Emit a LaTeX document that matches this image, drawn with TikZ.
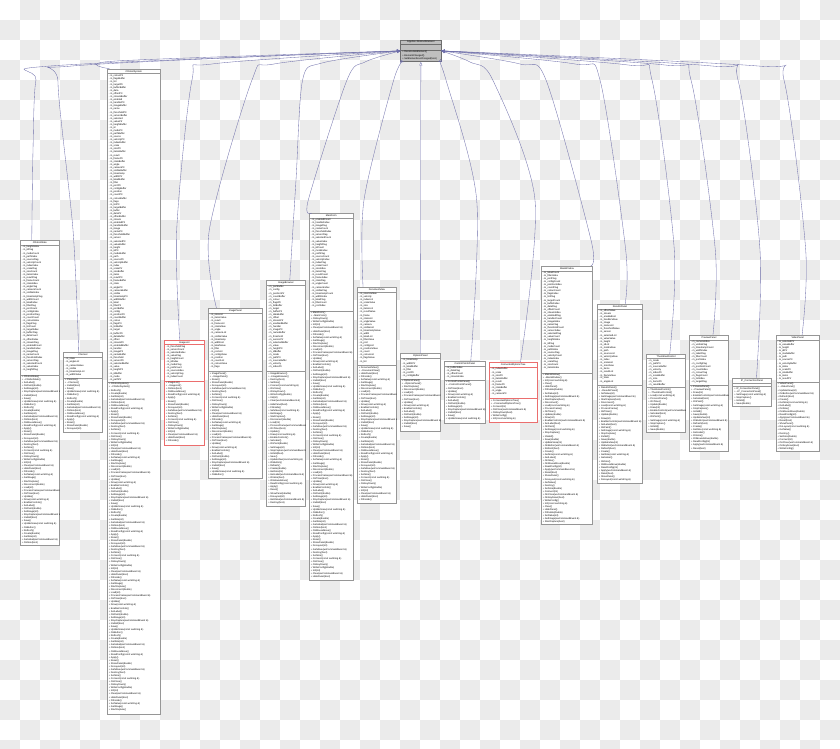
\documentclass[tikz,border=0pt]{standalone}
\usepackage{fontspec}
\newfontfamily\umlfont{Liberation Sans}
\usepackage{tikz}
\usetikzlibrary{arrows.meta,fit,calc}

\definecolor{tilegray}{RGB}{235,235,235}
\definecolor{boxgray}{RGB}{150,150,150}
\definecolor{boxred}{RGB}{235,110,110}
\definecolor{rootgray}{RGB}{191,191,191}
\definecolor{rootedge}{RGB}{110,110,110}
\definecolor{edgeblue}{RGB}{110,110,170}

\tikzset{
  umlbox/.style={draw=boxgray, fill=white, inner sep=0pt, line width=0.35pt},
  redbox/.style={umlbox, draw=boxred},
  rootbox/.style={umlbox, draw=rootedge, fill=rootgray},
  member/.style={anchor=west, inner sep=0pt, font=\umlfont\fontsize{1.8}{2}\selectfont},
  classname/.style={member, anchor=center},
  inherit/.style={draw=edgeblue, line width=0.25pt, -{Triangle[open, length=2.6pt, width=2.2pt]}},
}

% word pools for the member lists
\newcommand{\attrword}[1]{\ifcase#1 timestamp\or value\or position\or velocity\or buffer\or frame\or image\or width\or height\or count\or index\or data\or state\or name\or label\or id\or colour\or scale\or offset\or angle\or threshold\or filter\or mode\or flags\or size\or stream\or camera\or sensor\or port\or path\or list\or items\or enabled\or visible\or selected\or config\or source\or target\or result\or handler\fi}
\newcommand{\attrtail}[1]{\ifcase#1 \or Count\or List\or Ptr\or Index\or Value\or Buffer\or Flag\or \fi}
\newcommand{\methword}[1]{\ifcase#1 Init\or Update\or Refresh\or GetValue\or SetValue\or OnPaint\or OnSize\or OnClose\or Load\or Save\or Reset\or Clear\or Draw\or Create\or Destroy\or GetImage\or SetImage\or OnMouseMove\or OnKeyDown\or ProcessFrame\or UpdateView\or ShowPanel\or HidePanel\or EnableControls\or GetSize\or SetSize\or StartCapture\or StopCapture\or ReadConfig\or WriteConfig\or OnTimer\or OnButton\or DoLayout\or FitInside\or SetLabel\or GetLabel\or Connect\or Disconnect\or IsValid\or Apply\fi}
\newcommand{\argword}[1]{\ifcase#1 \or \or int\or \or bool\or double\or const wxString \&\or wxCommandEvent \&\fi}

% #1 name, #2 left, #3 right, #4 top, #5 divider, #6 bottom, #7 title, #8 seed, #9 style
\newcommand{\classbox}[9]{%
  \node[#9, fit={(#2,#4) (#3,#6)}] (#1) {};
  \draw[#9] (#2,#4+4.6) -- (#3,#4+4.6);
  \draw[#9] (#2,#5) -- (#3,#5);
  \node[classname] at ({(#2+#3)/2},#4+2.4) {#7};
  \begin{scope}
    \clip (#2,#4) rectangle (#3,#6);
    \pgfmathtruncatemacro\nattr{(#5-#4-4.6-1)/3.07}
    \pgfmathtruncatemacro\nmeth{(#6-#5-1)/3.07}
    \ifnum\nattr>0
    \foreach \k in {1,...,\nattr}{%
      \pgfmathtruncatemacro\wi{mod(\k*7+#8,40)}%
      \pgfmathtruncatemacro\ti{mod(\k*3+#8,9)}%
      \node[member] at (#2+1.3,{#4+4.6+2+(\k-1)*3.07}) {- m\_\attrword{\wi}\attrtail{\ti}};
    }\fi
    \foreach \k in {1,...,\nmeth}{%
      \pgfmathtruncatemacro\wi{mod(\k*11+#8,40)}%
      \pgfmathtruncatemacro\ti{mod(\k*5+#8,8)}%
      \node[member] at (#2+1.3,{#5+2+(\k-1)*3.07}) {\ifcase\k\or + #7()\or + \textasciitilde#7()\else + \methword{\wi}(\argword{\ti})\fi};
    }
  \end{scope}
}

\begin{document}
\begin{tikzpicture}[x=0.75pt,y=0.75pt,yscale=-1,xscale=1]
\useasboundingbox (0,0) rectangle (840,749);

%Background checkerboard
\fill[white] (0,0) rectangle (840,749);
\foreach \i in {0,...,41}
  \foreach \j in {0,...,37}{
    \pgfmathtruncatemacro\odd{mod(\i+\j,2)}
    \ifnum\odd=1 \fill[tilegray] (\i*20,\j*20) rectangle ++(20,20); \fi
  }

%Base class
\node[rootbox, fit={(400.7,40) (441,61.7)}] (root) {};
\draw[rootbox] (400.7,44.6) -- (441,44.6);
\draw[rootbox] (400.7,50) -- (441,50);
\node[classname] at (420.85,42.3) {Algebra::AbstractElement};
\node[member] at (402,52.3) {+ RecalculateElement()};
\node[member] at (402,55.4) {+ ElementChanged()};
\node[member] at (402,58.5) {+ SetElementHasChanged(bool)};

%Derived classes
\classbox{A}{20.3}{59.3}{240.7}{375}{545}{CRobotState}{1}{umlbox}
\classbox{B}{63.3}{102.7}{352.7}{378}{432.7}{CSensor}{5}{umlbox}
\classbox{C}{107.3}{160.3}{69}{382.3}{714.3}{CRobotSystem}{9}{umlbox}
\classbox{D}{164.3}{204.3}{340}{381}{445}{ImageList}{13}{redbox}
\classbox{E}{208.3}{262.3}{308.3}{371.7}{478}{ImagePanel}{17}{umlbox}
\classbox{G}{266.7}{305.3}{280.7}{371.7}{506}{ImageBrowser}{21}{umlbox}
\classbox{F}{309.3}{353.3}{213.3}{311}{580}{MainForm}{25}{umlbox}
\classbox{H}{357.3}{396.5}{287.3}{365.7}{503.2}{DocumentView}{29}{umlbox}
\classbox{I}{400.3}{440.5}{353.7}{379}{431.5}{OptionsPanel}{33}{umlbox}
\classbox{J}{444.3}{485.3}{361.3}{380.3}{423}{ControlPointsPanel}{37}{umlbox}
\classbox{K}{489.3}{537}{362.7}{398.7}{422.3}{ConnectedOptionsTree}{3}{redbox}
\classbox{L}{541.2}{592.6}{266.2}{373}{524.6}{MainWindow}{7}{umlbox}
\classbox{M}{597.4}{642.4}{304.3}{385.7}{483}{ResultsPanel}{11}{umlbox}
\classbox{N}{646.7}{685.5}{354}{387.7}{431.8}{ThumbnailControl}{15}{umlbox}
\classbox{O}{689.6}{728.4}{335.3}{385}{451}{PreviewPanel}{19}{umlbox}
\classbox{P}{732.7}{771.3}{378.3}{386.5}{406}{IP\_ConnectionPanel}{23}{umlbox}
\classbox{Q}{776}{819.3}{335.3}{382.3}{451}{VideoPanel}{27}{umlbox}

%Connector ends
\coordinate (A-in) at ($(A.north west)+(11.7,0)$);
\coordinate (B-in) at ($(B.north west)+(15.7,0)$);
\coordinate (C-in) at ($(C.north west)+(2.5,0)$);
\coordinate (D-in) at ($(D.north west)+(15.7,0)$);
\coordinate (E-in) at ($(E.north west)+(8.4,0)$);
\coordinate (G-in) at ($(G.north west)+(23.3,0)$);
\coordinate (F-in) at ($(F.north west)+(2.7,0)$);
\coordinate (H-in) at ($(H.north west)+(6,0)$);
\coordinate (I-in) at ($(I.north west)+(20.5,0)$);
\coordinate (J-in) at ($(J.north west)+(26.7,0)$);
\coordinate (K-in) at ($(K.north west)+(31.4,0)$);
\coordinate (L-in) at ($(L.north west)+(49.8,0)$);
\coordinate (M-in) at ($(M.north west)+(28,0)$);
\coordinate (N-in) at ($(N.north west)+(23.3,0)$);
\coordinate (O-in) at ($(O.north west)+(23.6,0)$);
\coordinate (P-in) at ($(P.north west)+(24,0)$);
\coordinate (Q-in) at ($(Q.north west)+(26.3,0)$);
\coordinate (root-s1) at ($(root.south west)+(3.3,0)$);
\coordinate (root-s3) at ($(root.south east)+(-3,0)$);

%Inheritance lines
\draw[inherit] plot[smooth] coordinates {(A-in) (33,150) (36,80) (50,66) (root.west)};
\draw[inherit] plot[smooth] coordinates {(B-in) (73,230) (58,82) (72,66) (root.west)};
\draw[inherit] plot[smooth] coordinates {(C-in) (116,61) (root.west)};
\draw[inherit] plot[smooth] coordinates {(D-in) (176.7,230) (192,80) (212,64) (root.west)};
\draw[inherit] plot[smooth] coordinates {(E-in) (209.3,230) (252,80) (274,64) (root.west)};
\draw[inherit] plot[smooth] coordinates {(G-in) (296,180) (302.6,80) (322,63) (root.west)};
\draw[inherit] plot[smooth] coordinates {(F-in) (308.3,200) (347,80) (365,62) (root.west)};
\draw[inherit] plot[smooth] coordinates {(H-in) (364,200) (393.7,80) (root-s1)};
\draw[inherit] (I-in) -- (root.south);
\draw[inherit] plot[smooth] coordinates {(J-in) (476.7,200) (446,80) (root-s3)};
\draw[inherit] plot[smooth] coordinates {(K-in) (535,200) (492.8,80) (470,62) (root.east)};
\draw[inherit] plot[smooth] coordinates {(L-in) (591,240) (546,80) (520,64) (root.east)};
\draw[inherit] plot[smooth] coordinates {(M-in) (625.7,250) (600,80) (575,64) (root.east)};
\draw[inherit] plot[smooth] coordinates {(N-in) (674.3,250) (652,80) (628,65) (root.east)};
\draw[inherit] plot[smooth] coordinates {(O-in) (715.3,250) (691,80) (665,65) (root.east)};
\draw[inherit] plot[smooth] coordinates {(P-in) (760,250) (738,80) (712,66) (root.east)};
\draw[inherit] plot[smooth] coordinates {(Q-in) (805.7,250) (784,80) (758,66) (root.east)};

\end{tikzpicture}
\end{document}
